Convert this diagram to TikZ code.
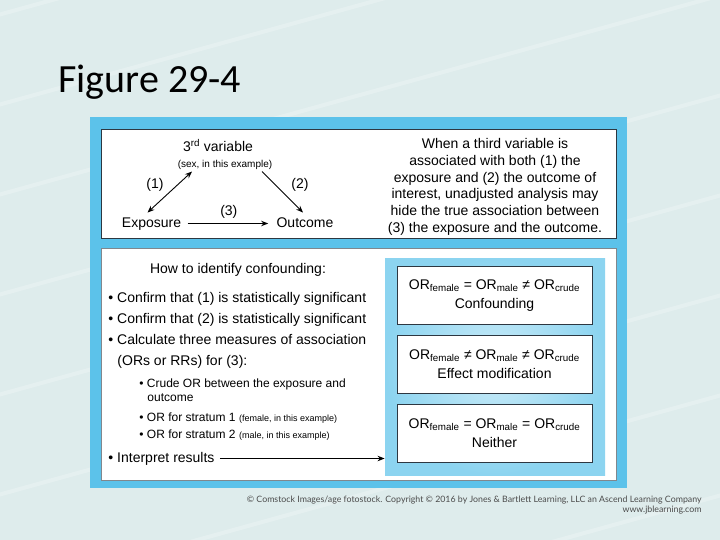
\documentclass[tikz,border=0pt]{standalone}
\usepackage{fontspec}
\setmainfont{Liberation Sans}
\newfontfamily\titlefont{Carlito}
\newfontfamily\creditfont{Lato}
\usetikzlibrary{calc, arrows.meta}
\definecolor{bgcol}{RGB}{222,236,236}
\definecolor{framecol}{RGB}{92,194,234}
\definecolor{innercol}{RGB}{140,212,240}
\definecolor{edgecol}{RGB}{45,55,65}
\tikzstyle{lbl} = [inner sep=1pt, font=\fontsize{14}{16.7}\selectfont, text height=10pt, text depth=3pt]
\tikzstyle{item} = [inner sep=1pt, anchor=base west, font=\fontsize{14}{16}\selectfont]
\tikzstyle{subitem} = [inner sep=1pt, anchor=base west, font=\fontsize{12}{14}\selectfont]
\tikzstyle{note} = [inner sep=1pt, font=\fontsize{10}{11}\selectfont]
\tikzstyle{orbox} = [draw=edgecol, fill=white, minimum width=195pt, minimum height=58pt, align=center, font=\fontsize{14}{19}\selectfont, inner sep=2pt]

\begin{document}
\begin{tikzpicture}[x=1pt, y=-1pt, >={Stealth[length=7pt, width=5.5pt]}, line width=.9pt]
    \fill[bgcol] (0,0) rectangle (720,540);
    \useasboundingbox (0,0) rectangle (720,540);
    \foreach \y in {20,110,200,300,400,500,600,700}
        \draw[white, opacity=.22, line width=4pt] (-20,\y) -- (740,\y-210);
    \node (title) [anchor=base west, inner sep=0pt, font=\titlefont\fontsize{40}{40}\selectfont] at (58,93) {Figure 29-4};

    % frame and the two panels
    \fill[framecol] (90,117) rectangle (627,488);
    \draw[edgecol, fill=white, line width=.6pt] (101,129) rectangle (616,238);
    \draw[edgecol!60, fill=white, line width=.6pt] (101,248) rectangle (616,480);

    % top panel: the triangle
    \node (third) [lbl, anchor=base] at (218,152) {3\textsuperscript{rd} variable};
    \node (sexnote) [note, anchor=base] at (225,168) {(sex, in this example)};
    \node (expo) [lbl, anchor=base] at (151.5,227) {Exposure};
    \node (outc) [lbl, anchor=base] at (305,227) {Outcome};
    \node (lab1) [lbl] at (155,185) {(1)};
    \node (lab2) [lbl] at (300,185) {(2)};
    \draw [<->] ([shift={(-4,-3)}]expo.north) -- ([xshift=-33pt]sexnote.south);
    \draw [->] ([xshift=37pt]sexnote.south) -- ([shift={(-2,-3)}]outc.north);
    \draw [->, shorten <=5pt, shorten >=7pt] (expo) -- node[lbl, above=4pt] {(3)} (outc);
    \node (explain) [align=center, font=\fontsize{14}{16.7}\selectfont] at (495,187) {When a third variable is\\ associated with both (1) the\\ exposure and (2) the outcome of\\ interest, unadjusted analysis may\\ hide the true association between\\ (3) the exposure and the outcome.};

    % bottom panel: the steps
    \node (howto) [lbl] at (238,270) {How to identify confounding:};
    \node (conf1) [item] at (107,302) {• Confirm that (1) is statistically significant};
    \node (conf2) [item] at (107,323) {• Confirm that (2) is statistically significant};
    \node (calc) [item] at (107,344) {• Calculate three measures of association};
    \node (calcb) [item] at (116,365) {(ORs or RRs) for (3):};
    \node (crude) [subitem] at (138,387) {• Crude OR between the exposure and};
    \node (crudeb) [subitem] at (146,401) {outcome};
    \node (str1) [subitem] at (138,421) {• OR for stratum 1 {\fontsize{9}{10}\selectfont(female, in this example)}};
    \node (str2) [subitem] at (138,438) {• OR for stratum 2 {\fontsize{9}{10}\selectfont(male, in this example)}};
    \node (interp) [item, text height=10pt, text depth=3pt] at (107,462) {• Interpret results};

    % bottom panel: the three outcomes
    \node (inner) [inner color=innercol!45, outer color=innercol, minimum width=220pt, minimum height=217pt, inner sep=0pt] at (495,366.5) {};
    \node (conf) [orbox] at (494.5,295.5) {OR\textsubscript{female} = OR\textsubscript{male} ≠ OR\textsubscript{crude}\\ Confounding};
    \node (effm) [orbox, below of=conf, node distance=69pt] {OR\textsubscript{female} ≠ OR\textsubscript{male} ≠ OR\textsubscript{crude}\\ Effect modification};
    \node (neith) [orbox, below of=effm, node distance=68.5pt] {OR\textsubscript{female} = OR\textsubscript{male} = OR\textsubscript{crude}\\ Neither};
    \draw [->, shorten <=4pt] (interp.east) -- (interp.east -| inner.west);

    \node (credit) [anchor=base east, align=right, inner sep=0pt, text=black!70, font=\creditfont\fontsize{8.8}{10}\selectfont] at (702,512) {© Comstock Images/age fotostock. Copyright © 2016 by Jones \& Bartlett Learning, LLC an Ascend Learning Company\\ www.jblearning.com};
\end{tikzpicture}
\end{document}
